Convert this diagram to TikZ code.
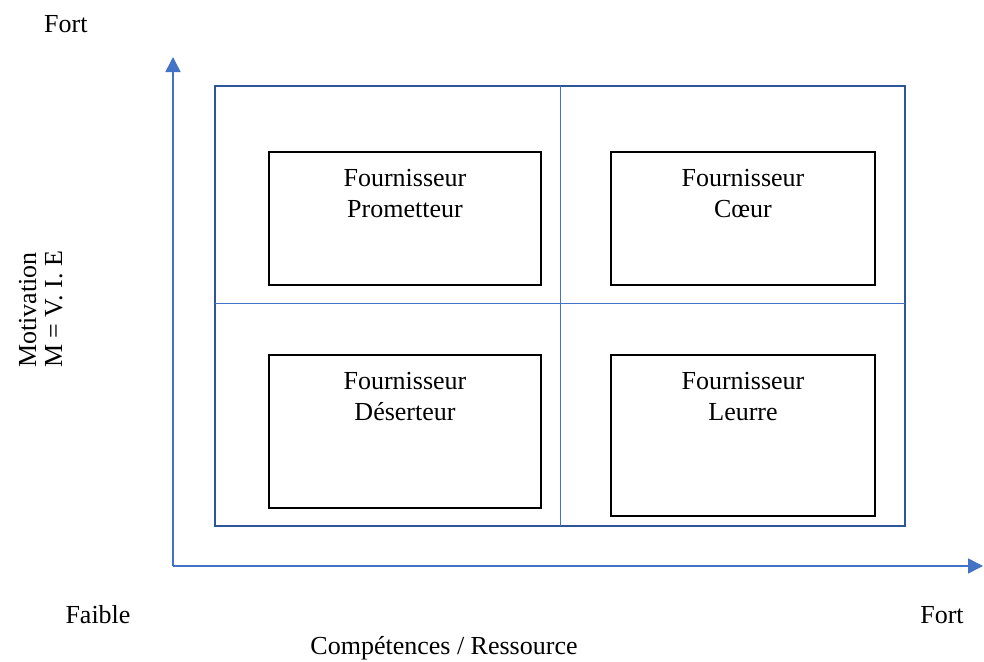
\documentclass[tikz,border=0pt]{standalone}
\usepackage{fontspec}
\setmainfont{Liberation Serif}
\usetikzlibrary{arrows.meta,calc}
\definecolor{axisblue}{HTML}{4472C4}
\definecolor{darkblue}{HTML}{2F5597}
\tikzset{
  txt/.style={font=\fontsize{26}{31}\selectfont, inner sep=0pt},
  axis/.style={draw=axisblue, line width=1.5pt, -{Triangle[length=15pt,width=15pt]}},
  outer/.style={draw=darkblue, line width=2.5pt, minimum width=690pt, minimum height=440pt, inner sep=0pt},
  divider/.style={draw=axisblue, line width=1pt},
  quadbox/.style={draw=black, line width=1.2pt, inner sep=0pt, minimum width=#1},
}
\begin{document}
\begin{tikzpicture}[x=1pt,y=-1pt]
\useasboundingbox (0,0) rectangle (984,661);
% axes
\coordinate (origin) at (173,566);
\coordinate (ytip) at (173,57);
\coordinate (xtip) at (983,566);
\draw[axis] (origin) -- (ytip);
\draw[axis] (origin) -- (xtip);
% outer grid
\node[outer] (grid) at (560,306) {};
\coordinate (vtop) at (560,86);
\coordinate (vbot) at (560,526);
\coordinate (hleft) at (215,303);
\coordinate (hright) at (905,303);
\draw[divider] (vtop) -- (vbot);
\draw[divider] (hleft) -- (hright);
% quadrant boxes
\node[quadbox=272pt, minimum height=133pt] (tl) at (405,218.5) {};
\node[quadbox=264pt, minimum height=133pt] (tr) at (743,218.5) {};
\node[quadbox=272pt, minimum height=153pt] (bl) at (405,431.5) {};
\node[quadbox=264pt, minimum height=161pt] (br) at (743,435.5) {};
\node[txt, anchor=base] (tl1) at ($(tl.north)+(0,35)$) {Fournisseur};
\node[txt, anchor=base] (tl2) at ($(tl.north)+(0,66)$) {Prometteur};
\node[txt, anchor=base] (tr1) at ($(tr.north)+(0,35)$) {Fournisseur};
\node[txt, anchor=base] (tr2) at ($(tr.north)+(0,66)$) {Cœur};
\node[txt, anchor=base] (bl1) at ($(bl.north)+(0,35)$) {Fournisseur};
\node[txt, anchor=base] (bl2) at ($(bl.north)+(0,66)$) {Déserteur};
\node[txt, anchor=base] (br1) at ($(br.north)+(0,35)$) {Fournisseur};
\node[txt, anchor=base] (br2) at ($(br.north)+(0,66)$) {Leurre};
% axis labels
\node[txt, anchor=base west] (fortY) at (44,33) {Fort};
\node[txt, anchor=base] (faible) at (98,623) {Faible};
\node[txt, anchor=base] (fortX) at (942,623) {Fort};
\node[txt, anchor=base] (comp) at (444,654) {Compétences / Ressource};
\node[txt, anchor=base west, rotate=90] (mot) at (36,368) {Motivation};
\node[txt, anchor=base west, rotate=90] (mvie) at (62,368) {M = V. I. E};
\end{tikzpicture}
\end{document}
